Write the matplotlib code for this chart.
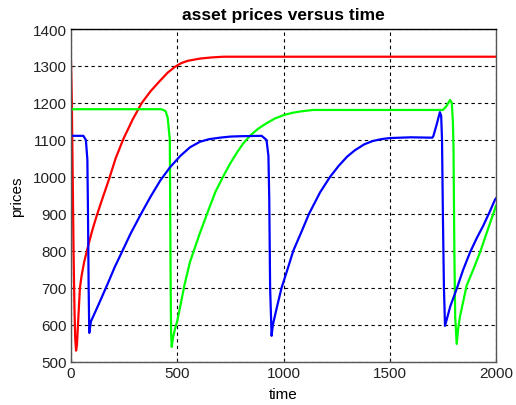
import matplotlib
matplotlib.use("Agg")
import matplotlib.pyplot as plt

# ---- data ----
red_t = [0, 4, 8, 12, 16, 20, 24, 28, 35, 42, 50, 62, 81, 100, 121, 150, 178, 210, 246, 290,
         333, 375, 419, 455, 490, 520, 550, 607, 660, 717, 2000]
red_p = [1310, 1200, 1000, 800, 650, 560, 530, 545, 624, 700, 733, 770, 814, 855, 895, 945, 992, 1050, 1102, 1155,
         1200, 1232, 1260, 1282, 1298, 1308, 1314, 1320, 1323, 1325, 1325]

green_t = [0, 425, 445, 455, 460, 465, 467, 469, 471, 474, 480, 490, 500, 535, 560, 578, 606, 650, 680, 717, 750, 780,
           810, 842, 880, 920, 960, 1000, 1040, 1080, 1139, 1750, 1765, 1784, 1792, 1797, 1800, 1804, 1808, 1815, 1822, 1831,
           1862, 1895, 1925, 1960, 1995, 2000]
green_p = [1183, 1183, 1178, 1160, 1130, 1100, 900, 700, 580, 540, 565, 590, 610, 710, 770, 800, 847, 915, 960, 1002, 1037, 1065,
           1090, 1111, 1130, 1145, 1158, 1167, 1173, 1177, 1181, 1181, 1190, 1208, 1200, 1150, 1080, 800, 620, 548, 590, 624,
           706, 752, 796, 855, 913, 922]

blue_t = [0, 58, 70, 77, 80, 83, 86, 94, 130, 172, 205, 239, 280, 325, 372, 420, 466, 515, 560, 607, 650, 700, 750, 800, 897, 920,
          929, 933, 937, 944, 950, 970, 991, 1020, 1046, 1085, 1120, 1172, 1219, 1260, 1300, 1336, 1380, 1420, 1460, 1500, 1600, 1700,
          1705, 1720, 1736, 1742, 1746, 1750, 1755, 1760, 1785, 1815, 1845, 1878, 1910, 1940, 1970, 1995, 2000]
blue_p = [1111, 1111, 1100, 1047, 900, 700, 578, 609, 655, 710, 755, 796, 846, 895, 944, 990, 1026, 1057, 1080, 1095, 1102, 1106, 1109, 1110, 1111, 1100,
          1057, 939, 700, 570, 600, 650, 700, 752, 800, 852, 900, 958, 1000, 1030, 1055, 1072, 1088, 1097, 1102, 1105, 1107, 1106,
          1110, 1140, 1175, 1165, 1100, 900, 700, 597, 650, 697, 748, 796, 835, 868, 905, 938, 942]

x_ticks = [0, 500, 1000, 1500, 2000]
y_ticks = [500, 600, 700, 800, 900, 1000, 1100, 1200, 1300, 1400]

plt.rcParams['font.family'] = ['Liberation Sans', 'DejaVu Sans']

fig = plt.figure(figsize=(5.16, 4.06), dpi=100)
ax = fig.add_axes([71/516, 1 - 362.7/406, (496-71)/516, (362.7-30)/406])

ax.plot(red_t, red_p, color='#ff0000', lw=1.6)
ax.plot(green_t, green_p, color='#00ff00', lw=1.6)
ax.plot(blue_t, blue_p, color='#0000ff', lw=1.6)

ax.set_xlim(0, 2000)
ax.set_ylim(500, 1400)
ax.set_xticks(x_ticks)
ax.set_yticks(y_ticks)
ax.tick_params(direction='in', length=3, labelsize=11, pad=3, colors='#222222')
ax.grid(True, color='black', linestyle=(0, (3, 3)), linewidth=0.8)
for s in ax.spines.values():
    s.set_color('#555555')
    s.set_linewidth(1.0)
ax.spines['top'].set_color('black')

ax.set_title('asset prices versus time', fontsize=12.5, fontweight='bold', pad=7)
ax.set_xlabel('time', fontsize=11, labelpad=5)
ax.set_ylabel('prices', fontsize=11, labelpad=6)

fig.savefig('out.png', dpi=100)
